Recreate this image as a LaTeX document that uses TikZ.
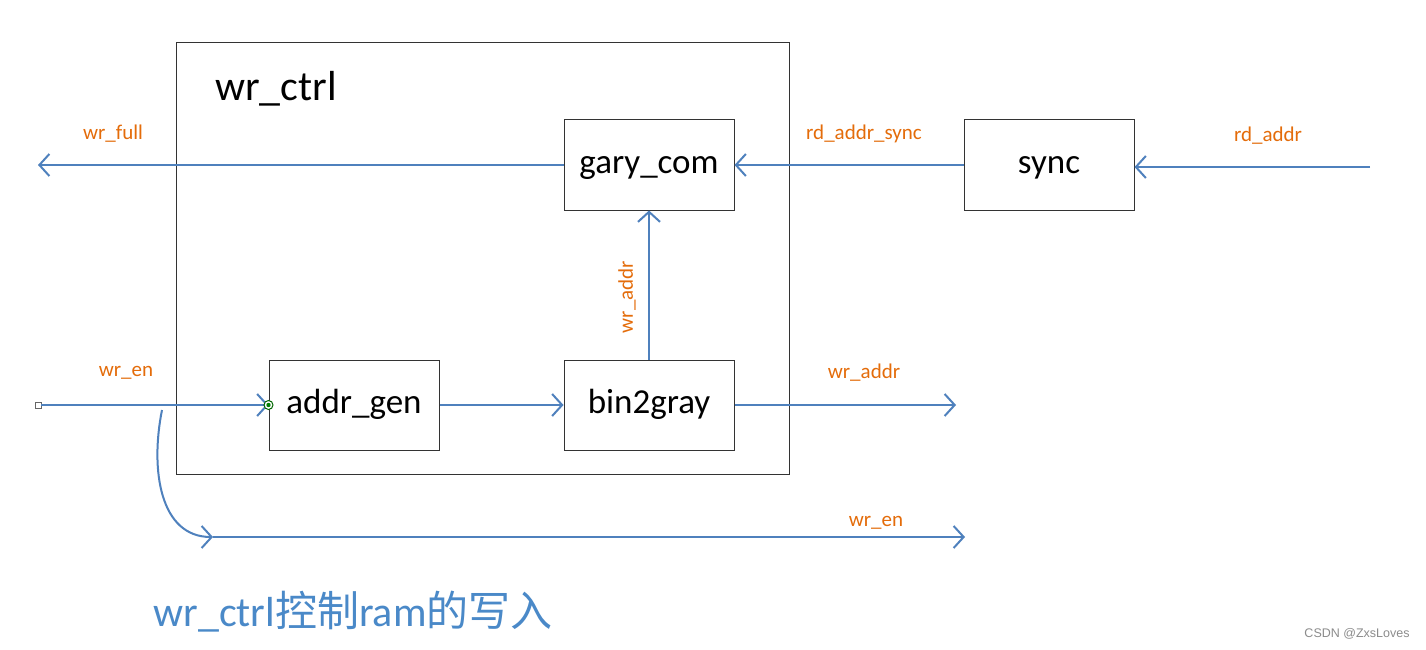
\documentclass[tikz,border=0pt]{standalone}
\usepackage{fontspec}
\setmainfont{Carlito}
\newfontfamily\cjk{Noto Sans CJK SC}
\newfontfamily\wmfont{Liberation Sans}
\usetikzlibrary{arrows.meta,positioning}
\definecolor{wireblue}{RGB}{79,129,189}
\definecolor{sigorange}{RGB}{228,108,10}
\definecolor{titleblue}{RGB}{74,137,200}
\tikzset{module/.style={draw=black!80, line width=1pt, minimum width=170pt, minimum height=90pt, inner sep=0pt, text height=16pt, text depth=0pt, font=\fontsize{35}{42}\selectfont},
  wire/.style={draw=wireblue, line width=2pt, -{Straight Barb[length=10pt,width=22pt]}},
  siglabel/.style={text=sigorange, font=\fontsize{21}{25}\selectfont, inner sep=0pt}}

\begin{document}
\begin{tikzpicture}[x=1pt, y=-1pt]
	\fill[white] (0,0) rectangle (1426,650);
	\useasboundingbox (0,0) rectangle (1426,650);

	% outer block
	\node[draw=black!80, line width=1pt, minimum width=613pt, minimum height=431pt, inner sep=0pt] (wrctrl) at (482.5,258.5) {};
	\node[font=\fontsize{42}{50}\selectfont, inner sep=0pt] (wrctrltxt) at (276,89) {wr\_ctrl};

	\node[module] (gcom) at (649,165) {gary\_com};
	\node[module] (sync) at (1049,165) {sync};
	\node[module] (agen) at (354,405) {addr\_gen};
	\node[module] (bin) at (649,405) {bin2gray};

	\coordinate (wrfull) at (38,165);
	\coordinate (rdaddr) at (1370,167);
	\coordinate (waddrout) at (956,405);
	\coordinate (tap) at (162,410);
	\coordinate (bend) at (213,537);
	\coordinate (wrenout) at (965,537);
	\node[draw=black!60, fill=white, line width=0.8pt, minimum size=6pt, inner sep=0pt] (wrenin) at (38,405) {};

	\draw[wire] (gcom.west) -- (wrfull);
	\draw[wire] (sync.west) -- (gcom.east);
	\draw[wire] (rdaddr) -- (rdaddr -| sync.east);
	\draw[wire] (bin.north) -- (gcom.south);
	\draw[wire] (wrenin) -- (agen.west);
	\draw[wire] (agen) -- (bin);
	\draw[wire] (bin.east) -- (waddrout);
	\draw[wire] (tap) .. controls (150,470) and (160,537) .. (bend);
	\draw[wire] (bend) -- (wrenout);

	\node[circle, draw=green!40!black, fill=white, line width=1pt, minimum size=9pt, inner sep=0pt] (agendot) at (agen.west) {};
	\fill[green!50!black] (agendot) circle (2.2pt);

	\node[siglabel] (lwrfull) at (113,134) {wr\_full};
	\node[siglabel] (lrdsync) at (864,134) {rd\_addr\_sync};
	\node[siglabel] (lrdaddr) at (1268,136) {rd\_addr};
	\node[siglabel, rotate=90] (lwaddrv) at (627,297) {wr\_addr};
	\node[siglabel] (lwren) at (126,373) {wr\_en};
	\node[siglabel] (lwaddr) at (864,373) {wr\_addr};
	\node[siglabel] (lwren2) at (876,523) {wr\_en};

	\node[text=titleblue, font=\fontsize{42}{50}\selectfont, inner sep=0pt] (title) at (353,612) {wr\_ctrl{\cjk 控制}ram{\cjk 的写入}};
	\node[text=black!45, font=\wmfont\fontsize{12.5}{15}\selectfont, inner sep=0pt] (wm) at (1357,634) {CSDN @ZxsLoves};
\end{tikzpicture}
\end{document}
